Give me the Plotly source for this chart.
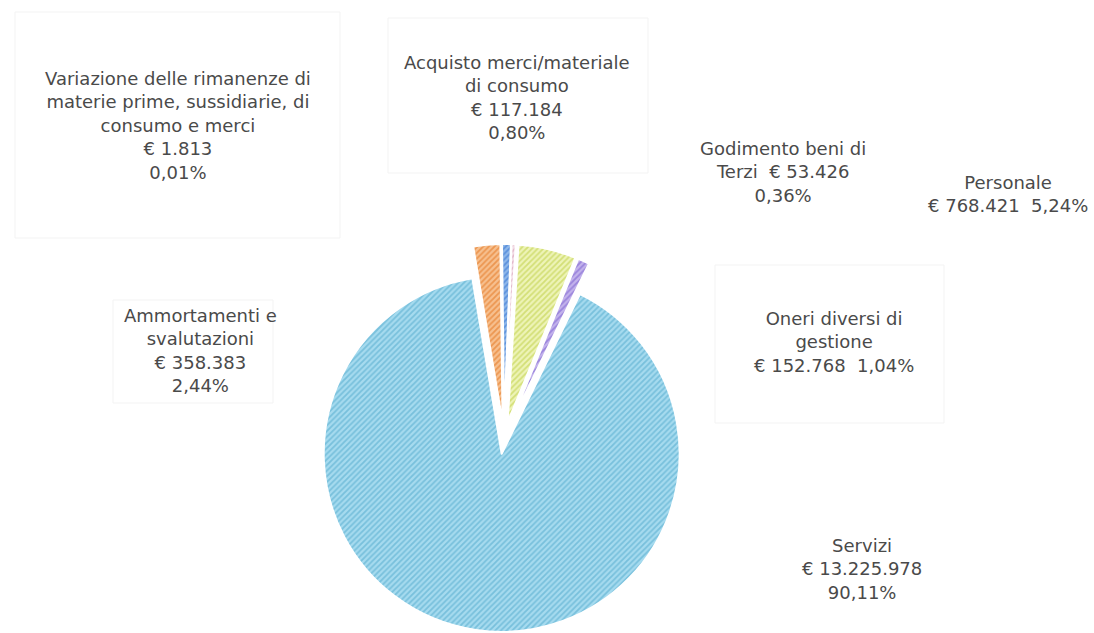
import plotly.graph_objects as go

# Cost breakdown (EUR)
categories = [
    "Ammortamenti e svalutazioni",
    "Acquisto merci/materiale di consumo",
    "Variazione delle rimanenze di materie prime, sussidiarie, di consumo e merci",
    "Godimento beni di Terzi",
    "Personale",
    "Oneri diversi di gestione",
    "Servizi",
]
values = [358383, 117184, 1813, 53426, 768421, 152768, 13225978]

# Label wording split across lines, in the same order as categories
label_lines = [
    ["Ammortamenti e", "svalutazioni"],
    ["Acquisto merci/materiale", "di consumo"],
    ["Variazione delle rimanenze di", "materie prime, sussidiarie, di", "consumo e merci"],
    ["Godimento beni di", "Terzi"],
    ["Personale"],
    ["Oneri diversi di", "gestione"],
    ["Servizi"],
]
# How the amount and percentage are joined to the name lines
label_join = ["lines", "lines", "lines", "inline_amount", "amount_pct", "amount_pct", "lines"]

base_colors = ["#f7c08f", "#8fb8ea", "#f3dde6", "#f3dde6", "#eef4b8", "#c3b3ec", "#a6dbef"]
hatch_colors = ["#ec9650", "#5a90dc", "#e2b6c8", "#e2b6c8", "#d3df76", "#9a84dc", "#78c0dc"]

# Label anchor positions in pixels (centre of each text block)
label_px = [(200, 351), (517, 97), (178, 125), (783, 172), (1008, 194), (834, 342), (862, 569)]

W, H = 1094, 633
FONT = "DejaVu Sans"
TEXT_COLOR = "#4a4a4a"

total = sum(values)


def fmt_eur(v):
    return "€ " + f"{v:,}".replace(",", ".")


def fmt_pct(v):
    return f"{v / total * 100:.2f}".replace(".", ",") + "%"


def build_label(i):
    lines = list(label_lines[i])
    amt, pct = fmt_eur(values[i]), fmt_pct(values[i])
    if label_join[i] == "lines":
        lines += [amt, pct]
    elif label_join[i] == "inline_amount":
        lines[-1] = lines[-1] + "  " + amt
        lines.append(pct)
    else:
        lines.append(amt + "  " + pct)
    return "<br>".join(lines)


# Pie geometry in pixels
cx, cy, box = 504, 438, 388

fig = go.Figure(
    go.Pie(
        labels=categories,
        values=values,
        sort=False,
        direction="clockwise",
        rotation=-9.5,
        pull=0.09,
        textinfo="none",
        hoverinfo="label+value+percent",
        marker=dict(
            colors=base_colors,
            line=dict(color="white", width=2),
            pattern=dict(
                shape="/",
                size=4,
                solidity=0.45,
                fgcolor=hatch_colors,
                bgcolor=base_colors,
                fillmode="replace",
            ),
        ),
        domain=dict(
            x=[(cx - box / 2) / W, (cx + box / 2) / W],
            y=[1 - (cy + box / 2) / H, 1 - (cy - box / 2) / H],
        ),
        showlegend=False,
    )
)

# Faint frames around some of the label blocks
frames = [
    (15, 12, 340, 238),
    (388, 18, 648, 173),
    (715, 265, 944, 423),
    (113, 300, 273, 403),
]
for x0, y0, x1, y1 in frames:
    fig.add_shape(
        type="rect", xref="paper", yref="paper",
        x0=x0 / W, x1=x1 / W, y0=1 - y1 / H, y1=1 - y0 / H,
        line=dict(color="#f3f3f3", width=1),
        layer="below",
    )

for i in range(len(categories)):
    px, py = label_px[i]
    fig.add_annotation(
        x=px / W, y=1 - py / H, xref="paper", yref="paper",
        xanchor="center", yanchor="middle",
        text=build_label(i), showarrow=False, align="center",
        font=dict(family=FONT, size=18, color=TEXT_COLOR),
    )

fig.update_layout(
    width=W,
    height=H,
    margin=dict(l=0, r=0, t=0, b=0),
    paper_bgcolor="white",
    plot_bgcolor="white",
)

fig.write_html("out.html")
